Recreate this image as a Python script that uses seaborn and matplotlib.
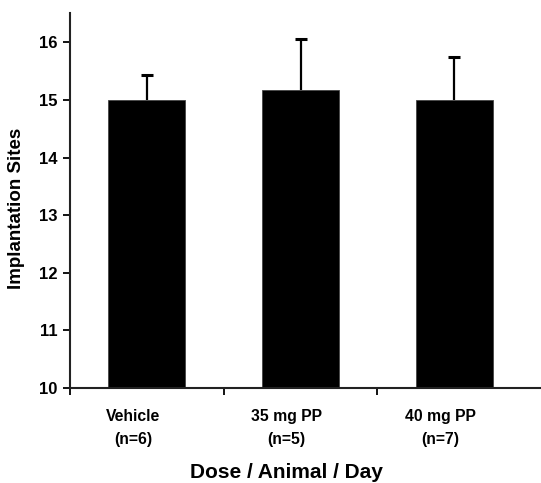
import pandas as pd
import seaborn as sns
import matplotlib.pyplot as plt
import matplotlib.transforms as mtransforms

# data
groups = ["Vehicle\n(n=6)", "35 mg PP\n(n=5)", "40 mg PP\n(n=7)"]
sites = [15.0, 15.18, 15.0]
sem = [0.44, 0.88, 0.75]

df = pd.DataFrame({"group": groups, "sites": sites})

sns.set_style("ticks")
plt.rcParams['font.family'] = ['Liberation Sans', 'DejaVu Sans']
plt.rcParams['font.weight'] = 'bold'
plt.rcParams['text.color'] = 'black'
plt.rcParams['axes.labelcolor'] = 'black'
plt.rcParams['xtick.color'] = 'black'
plt.rcParams['ytick.color'] = 'black'

fig = plt.figure(figsize=(5.41, 4.83), dpi=100)
ax = fig.add_axes([0.1294, 0.1967, 0.8706, 0.7763])

sns.barplot(x="group", y="sites", data=df, color="black", width=0.5,
            errorbar=None, edgecolor="#444444", linewidth=0.6, ax=ax)
# upper error bars only
eb = ax.errorbar(range(len(groups)), sites, yerr=[[0] * len(sem), sem], fmt="none",
                 ecolor="black", elinewidth=1.6, capsize=4, capthick=2.2)
eb.lines[1][0].set_visible(False)  # hide the caps at the bar tops

ax.set_ylim(10, 16.51)
ax.set_xlim(-0.5, 2.565)
ax.set_yticks(range(10, 17))
ax.tick_params(axis="y", labelsize=12, length=5, width=1.3, pad=4, direction="out")
for lab in ax.get_yticklabels():
    lab.set_fontweight("bold")

# category boundaries get the ticks, names sit under the bars
ax.set_xticks([-0.5, 0.5, 1.5], minor=True)
ax.tick_params(axis="x", which="minor", length=5, width=1.3, direction="out")
ax.tick_params(axis="x", which="major", length=0, labelsize=11.3, pad=15)
shift = mtransforms.ScaledTranslation(-14 / 100, 0, fig.dpi_scale_trans)
for lab in ax.get_xticklabels():
    lab.set_fontweight("bold")
    lab.set_linespacing(1.7)
    lab.set_transform(lab.get_transform() + shift)

ax.set_ylabel("Implantation Sites", fontsize=13.5, fontweight="bold")
ax.yaxis.set_label_coords(-0.095, 0.48)
ax.set_xlabel("Dose / Animal / Day", fontsize=15, fontweight="bold")
ax.xaxis.set_label_coords(0.4586, -0.2)

for side in ["top", "right"]:
    ax.spines[side].set_visible(False)
for side in ["left", "bottom"]:
    ax.spines[side].set_linewidth(1.5)
    ax.spines[side].set_color("#222222")

plt.savefig("out.png", dpi=100)
